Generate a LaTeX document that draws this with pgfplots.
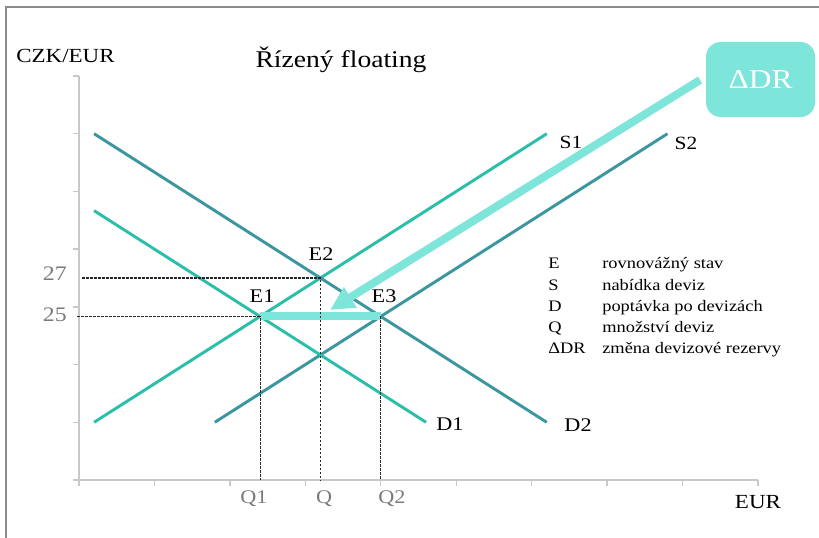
\documentclass[border=0pt]{standalone}
\usepackage{pgfplots}
\pgfplotsset{compat=1.18}
\usepackage{fontspec}
\setmainfont{Liberation Serif}[FakeStretch=1.15]
\usetikzlibrary{arrows.meta}
\definecolor{tA}{HTML}{2BBFAA}
\definecolor{tB}{HTML}{3C96A0}
\definecolor{tC}{HTML}{7EE5DA}
\definecolor{axg}{HTML}{C8C8C8}
\definecolor{lblg}{HTML}{7A7A7A}
\definecolor{frameg}{HTML}{8C8C8C}
\begin{document}
\begin{tikzpicture}
\useasboundingbox (-59.25pt,-43.5pt) rectangle (555pt,360pt);
\begin{axis}[
 at={(0,0)}, anchor=south west,
 scale only axis, width=509.25pt, height=303pt,
 xmin=0, xmax=9, ymin=0, ymax=7,
 axis x line*=bottom, axis y line*=left,
 axis line style={axg, line width=1.1pt, -},
 xtick={0,...,9}, ytick={0,...,7},
 xticklabels={}, yticklabels={},
 tick align=outside, major tick length=4.5pt,
 tick style={axg, line width=1pt},
 clip=false,
]
% frame
\draw[frameg, line width=1.4pt] (axis cs:-0.968,-1.01) -- (axis cs:-0.968,8.196) -- (axis cs:9.81,8.196);
% supply and demand
\addplot[tA, line width=2.2pt, no marks] coordinates {(0.2,1) (6.2,6)};
\addplot[tB, line width=2.2pt, no marks] coordinates {(1.8,1) (7.8,6)};
\addplot[tA, line width=2.2pt, no marks] coordinates {(0.2,4.6667) (4.6,1)};
\addplot[tB, line width=2.2pt, no marks] coordinates {(0.2,6) (6.2,1)};
% reserve change bar
\addplot[tC, line width=6pt, no marks] coordinates {(2.4,2.8333) (4,2.8333)};
% dashed guides
\addplot[black!85, line width=0.8pt, dash pattern=on 2pt off 1pt, no marks] coordinates {(0.04,3.5) (3.2,3.5) (3.2,0)};
\addplot[black!85, line width=0.8pt, dash pattern=on 2pt off 1pt, no marks] coordinates {(-0.02,2.8333) (2.4,2.8333) (2.4,0)};
\addplot[black!85, line width=0.8pt, dash pattern=on 2pt off 1pt, no marks] coordinates {(4,2.8333) (4,0)};
% big arrow
\draw[tC, line width=6pt, -{Triangle[length=18pt,width=17pt]}] (axis cs:8.232,6.931) -- (axis cs:3.327,2.946);
\node[fill=tC, rounded corners=11pt, minimum width=81.75pt, minimum height=56.25pt, inner sep=0pt, text=white, font=\fontsize{20.5}{24}\selectfont] at (axis cs:9.034,6.939) {ΔDR};
% texts
\node[anchor=base, font=\fontsize{18}{22}\selectfont] at (axis cs:3.473,7.139) {Řízený floating};
\node[anchor=base, font=\fontsize{15}{18}\selectfont] at (axis cs:-0.179,7.226) {CZK/EUR};
\node[anchor=base east, inner sep=0pt, text=lblg, font=\fontsize{15.5}{18}\selectfont] at (axis cs:-0.159,3.465) {27};
\node[anchor=base east, inner sep=0pt, text=lblg, font=\fontsize{15.5}{18}\selectfont] at (axis cs:-0.159,2.738) {25};
\node[anchor=base, inner sep=0pt, font=\fontsize{14.5}{17}\selectfont] at (axis cs:2.426,3.067) {E1};
\node[anchor=base, inner sep=0pt, font=\fontsize{14.5}{17}\selectfont] at (axis cs:3.208,3.795) {E2};
\node[anchor=base, inner sep=0pt, font=\fontsize{14.5}{17}\selectfont] at (axis cs:4.043,3.067) {E3};
\node[anchor=base, inner sep=0pt, font=\fontsize{14}{17}\selectfont] at (axis cs:6.522,5.752) {S1};
\node[anchor=base, inner sep=0pt, font=\fontsize{14}{17}\selectfont] at (axis cs:8.046,5.735) {S2};
\node[anchor=base, inner sep=0pt, font=\fontsize{14.5}{17}\selectfont] at (axis cs:4.918,0.849) {D1};
\node[anchor=base, inner sep=0pt, font=\fontsize{14.5}{17}\selectfont] at (axis cs:6.615,0.832) {D2};
\node[anchor=base, inner sep=0pt, text=lblg, font=\fontsize{14.5}{17}\selectfont] at (axis cs:2.32,-0.399) {Q1};
\node[anchor=base, inner sep=0pt, text=lblg, font=\fontsize{14.5}{17}\selectfont] at (axis cs:3.248,-0.399) {Q};
\node[anchor=base, inner sep=0pt, text=lblg, font=\fontsize{14.5}{17}\selectfont] at (axis cs:4.149,-0.399) {Q2};
\node[anchor=base, inner sep=0pt, font=\fontsize{15}{18}\selectfont] at (axis cs:9.0,-0.502) {EUR};
% legend
\node[anchor=base west, inner sep=0pt, font=\fontsize{12}{14}\selectfont] at (axis cs:6.217,3.656) {E};
\node[anchor=base west, inner sep=0pt, font=\fontsize{12}{14}\selectfont] at (axis cs:6.217,3.292) {S};
\node[anchor=base west, inner sep=0pt, font=\fontsize{12}{14}\selectfont] at (axis cs:6.217,2.928) {D};
\node[anchor=base west, inner sep=0pt, font=\fontsize{12}{14}\selectfont] at (axis cs:6.217,2.564) {Q};
\node[anchor=base west, inner sep=0pt, font=\fontsize{12}{14}\selectfont] at (axis cs:6.217,2.2) {ΔDR};
\node[anchor=base west, inner sep=0pt, font=\fontsize{12}{14}\selectfont] at (axis cs:6.933,3.656) {rovnovážný stav};
\node[anchor=base west, inner sep=0pt, font=\fontsize{12}{14}\selectfont] at (axis cs:6.933,3.292) {nabídka deviz};
\node[anchor=base west, inner sep=0pt, font=\fontsize{12}{14}\selectfont] at (axis cs:6.933,2.928) {poptávka po devizách};
\node[anchor=base west, inner sep=0pt, font=\fontsize{12}{14}\selectfont] at (axis cs:6.933,2.564) {množství deviz};
\node[anchor=base west, inner sep=0pt, font=\fontsize{12}{14}\selectfont] at (axis cs:6.933,2.2) {změna devizové rezervy};
\end{axis}
\end{tikzpicture}
\end{document}
